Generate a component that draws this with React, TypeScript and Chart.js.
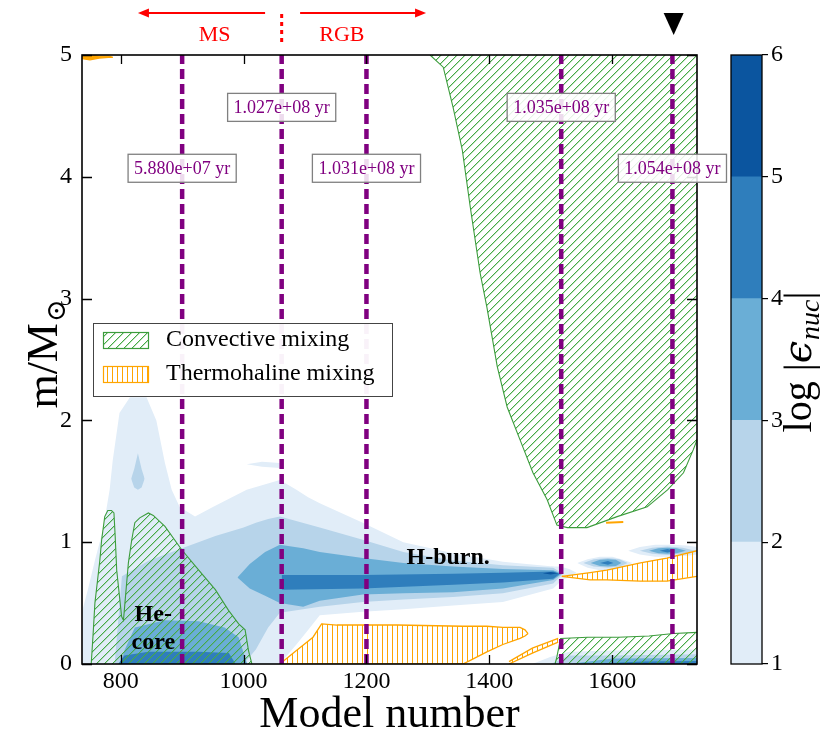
import { useEffect, useRef } from 'react';
import { Chart, registerables } from 'chart.js';

Chart.register(...registerables);

const FONT = "'Liberation Serif', 'DejaVu Serif', serif";

// ---- axes ----
const xRange = [737, 1738];
const yRange = [0, 5];
const xTicks = [800, 1000, 1200, 1400, 1600];
const yTicks = [0, 1, 2, 3, 4, 5];

// ---- colour bar ----
const cbLevels = [1, 2, 3, 4, 5, 6];
const cbColors = ['#e1edf8', '#b7d4ea', '#6aaed6', '#2f7ebc', '#0b559f'];

// ---- age markers ----
const ageModels = [900, 1062, 1200, 1517, 1698];
const ageLabels = ['5.880e+07 yr', '1.027e+08 yr', '1.031e+08 yr', '1.035e+08 yr', '1.054e+08 yr'];
const ageLabelM = [4.07, 4.57, 4.07, 4.57, 4.07];

// ---- phase annotations ----
const phaseSplit = 1062;
const msArrow = [1035, 828];
const rgbArrow = [1092, 1297];
const phaseNames = ['MS', 'RGB'];
const phaseNameX = [953, 1160];
const markerModel = 1700;

// ---- region labels ----
const regionText = ['He-', 'core', 'H-burn.'];
const regionTextX = [853, 853, 1333];
const regionTextM = [0.40, 0.17, 0.87];

// ---- legend ----
const legendLabels = ['Convective mixing', 'Thermohaline mixing'];

// ---- log eps_nuc >= 1 ----
const e1ShellX = [737, 746, 758, 771, 782, 787, 798, 815, 842, 858, 872, 883, 896, 921, 950, 1005, 1059, 1086, 1105, 1124, 1194, 1260, 1341, 1422, 1504, 1525];
const e1ShellTop = [0.43, 0.6, 0.85, 1.1, 1.43, 1.67, 2.06, 2.19, 2.19, 2.0, 1.65, 1.43, 1.29, 1.21, 1.29, 1.43, 1.51, 1.43, 1.37, 1.32, 1.16, 1.0, 0.91, 0.84, 0.8, 0.75];
const e1ShellBot = [0, 0, 0, 0, 0, 0, 0, 0, 0, 0, 0, 0, 0, 0, 0, 0, 0, 0.16, 0.28, 0.40, 0.43, 0.45, 0.48, 0.51, 0.62, 0.72];
const e1StreakX = [1005, 1030, 1059];
const e1StreakTop = [1.64, 1.66, 1.65];
const e1StreakBot = [1.64, 1.62, 1.61];
const e1Blob0X = [1500, 1515, 1530, 1542];
const e1Blob0Top = [0.8, 0.8, 0.78, 0.75];
const e1Blob0Bot = [0.7, 0.69, 0.71, 0.75];
const e1Blob1X = [1543, 1560, 1580, 1600, 1615, 1633];
const e1Blob1Top = [0.83, 0.86, 0.88, 0.88, 0.86, 0.83];
const e1Blob1Bot = [0.83, 0.79, 0.77, 0.77, 0.79, 0.83];
const e1Blob2X = [1626, 1645, 1670, 1700, 1725, 1738];
const e1Blob2Top = [0.93, 0.96, 0.98, 0.98, 0.97, 0.96];
const e1Blob2Bot = [0.93, 0.9, 0.88, 0.88, 0.89, 0.9];
const e1BaseX = [1470, 1500, 1530, 1600, 1738];
const e1BaseTop = [0, 0.06, 0.1, 0.11, 0.12];

// ---- log eps_nuc >= 2 ----
const e2ShellX = [790, 802, 846, 900, 954, 1000, 1020, 1040, 1059, 1124, 1194, 1260, 1341, 1422, 1504, 1520];
const e2ShellTop = [0, 0.72, 0.85, 0.95, 1.05, 1.12, 1.16, 1.19, 1.21, 1.12, 1.02, 0.92, 0.85, 0.81, 0.79, 0.74];
const e2ShellBot = [0, 0, 0, 0, 0, 0, 0.12, 0.3, 0.42, 0.47, 0.51, 0.53, 0.55, 0.58, 0.66, 0.74];
const e2DropX = [817, 822, 828, 834, 839];
const e2DropTop = [1.52, 1.6, 1.73, 1.6, 1.52];
const e2DropBot = [1.52, 1.45, 1.43, 1.45, 1.52];
const e2Blob1X = [1553, 1570, 1593, 1612, 1625];
const e2Blob1Top = [0.83, 0.86, 0.87, 0.86, 0.83];
const e2Blob1Bot = [0.83, 0.8, 0.79, 0.8, 0.83];
const e2Blob2X = [1645, 1665, 1690, 1715, 1735];
const e2Blob2Top = [0.93, 0.955, 0.965, 0.955, 0.93];
const e2Blob2Bot = [0.93, 0.905, 0.895, 0.905, 0.93];
const e2BaseX = [1500, 1530, 1600, 1738];
const e2BaseTop = [0, 0.07, 0.07, 0.08];

// ---- log eps_nuc >= 3 ----
const e3CoreX = [800, 806, 823, 872, 927, 969, 992, 1002, 1006];
const e3CoreTop = [0, 0.11, 0.30, 0.36, 0.35, 0.30, 0.22, 0.06, 0];
const e3ShellX = [990, 1010, 1035, 1059, 1097, 1124, 1194, 1260, 1341, 1422, 1504, 1518];
const e3ShellTop = [0.71, 0.82, 0.92, 0.98, 0.95, 0.92, 0.87, 0.83, 0.80, 0.78, 0.77, 0.74];
const e3ShellBot = [0.71, 0.62, 0.56, 0.5, 0.47, 0.52, 0.57, 0.58, 0.59, 0.62, 0.69, 0.74];
const e3Blob1X = [1565, 1580, 1593, 1606, 1615];
const e3Blob1Top = [0.83, 0.855, 0.86, 0.855, 0.83];
const e3Blob1Bot = [0.83, 0.805, 0.8, 0.805, 0.83];
const e3Blob2X = [1660, 1675, 1690, 1705, 1720];
const e3Blob2Top = [0.93, 0.95, 0.955, 0.95, 0.93];
const e3Blob2Bot = [0.93, 0.91, 0.905, 0.91, 0.93];
const e3BaseX = [1530, 1600, 1738];
const e3BaseTop = [0, 0.045, 0.05];

// ---- log eps_nuc >= 4 ----
const e4CoreX = [796, 806, 845, 927, 976, 987];
const e4CoreTop = [0, 0.07, 0.10, 0.10, 0.09, 0];
const e4BandX = [1062, 1194, 1341, 1422, 1504, 1515];
const e4BandTop = [0.73, 0.73, 0.74, 0.75, 0.76, 0.74];
const e4BandBot = [0.61, 0.62, 0.65, 0.67, 0.70, 0.74];
const e4Blob1X = [1580, 1593, 1602];
const e4Blob1Top = [0.83, 0.845, 0.83];
const e4Blob1Bot = [0.83, 0.815, 0.83];
const e4Blob2X = [1677, 1690, 1702];
const e4Blob2Top = [0.93, 0.945, 0.93];
const e4Blob2Bot = [0.93, 0.915, 0.93];
const e4BaseX = [1560, 1650, 1738];
const e4BaseTop = [0, 0.02, 0.025];

// ---- log eps_nuc >= 5 ----
const e5SpotX = [1487, 1500, 1512];
const e5SpotTop = [0.745, 0.755, 0.745];
const e5SpotBot = [0.745, 0.735, 0.745];

// ---- convective mixing ----
const convCoreX = [752, 755.5, 758, 766, 769, 774, 779, 785, 789, 791, 793.5, 801.5, 804.5, 812.5, 818, 823, 831, 845, 853, 872, 899, 927, 954, 975.5, 992, 1002.5, 1008, 1013.5];
const convCoreTop = [0, 0.28, 0.5, 0.85, 1.02, 1.21, 1.26, 1.26, 1.24, 1.05, 0.77, 0.39, 0.36, 0.83, 1.02, 1.16, 1.2, 1.24, 1.22, 1.13, 0.94, 0.77, 0.61, 0.44, 0.33, 0.28, 0.11, 0];
const convEnvX = [1303.5, 1325, 1341, 1356, 1369, 1385, 1396, 1413, 1429, 1450, 1471, 1494, 1510, 1527, 1559, 1608, 1657, 1690, 1716, 1732, 1738];
const convEnvBot = [5.0, 4.9, 4.57, 4.22, 3.75, 3.21, 2.93, 2.44, 2.11, 1.84, 1.57, 1.35, 1.14, 1.12, 1.12, 1.21, 1.29, 1.43, 1.57, 1.76, 1.84];
const convBaseX = [1507, 1510, 1516, 1560, 1610, 1660, 1700, 1738];
const convBaseTop = [0, 0.06, 0.21, 0.22, 0.22, 0.23, 0.25, 0.26];

// ---- thermohaline mixing ----
const thmShellX = [1059, 1086, 1113, 1127, 1152, 1250, 1357, 1369, 1396, 1422, 1450, 1458, 1463];
const thmShellTop = [0, 0.11, 0.22, 0.33, 0.32, 0.32, 0.31, 0.31, 0.31, 0.30, 0.30, 0.28, 0.25];
const thmShellBot = [0, 0, 0, 0, 0, 0, 0, 0.03, 0.10, 0.16, 0.21, 0.23, 0.25];
const thmStreakX = [1432, 1470, 1512];
const thmStreakTop = [0.02, 0.13, 0.21];
const thmStreakBot = [0, 0.09, 0.18];
const thmWedgeX = [1518, 1564, 1591, 1646, 1689, 1738];
const thmWedgeTop = [0.72, 0.75, 0.77, 0.83, 0.87, 0.93];
const thmWedgeBot = [0.72, 0.69, 0.69, 0.68, 0.68, 0.72];
const thmCornerX = [737, 750, 765, 780, 787];
const thmCornerTop = [5, 5, 4.99, 4.99, 4.98];
const thmCornerBot = [4.97, 4.96, 4.975, 4.98, 4.98];
const thmDashX = [1590, 1618];
const thmDashM = [1.16, 1.165];

const GREEN = '#3c9c3c';
const HATCH_GREEN = [70, 170, 70];
const ORANGE = '#ffa500';
const PURPLE = '#800080';

function makeHatch(kind: 'diag' | 'vert'): CanvasPattern | string {
  const c = document.createElement('canvas');
  const s = kind === 'diag' ? 8 : 5;
  c.width = s;
  c.height = s;
  const g = c.getContext('2d');
  if (!g) return 'transparent';
  const img = g.createImageData(s, s);
  const put = (x: number, y: number, rgb: number[], a: number) => {
    const k = (y * s + x) * 4;
    img.data[k] = rgb[0]; img.data[k + 1] = rgb[1]; img.data[k + 2] = rgb[2]; img.data[k + 3] = a;
  };
  if (kind === 'diag') {
    for (let i = 0; i < s; i++) {
      put(i, s - 1 - i, HATCH_GREEN, 255);
      put((i + 1) % s, s - 1 - i, HATCH_GREEN, 90);
    }
  } else {
    for (let j = 0; j < s; j++) put(2, j, [255, 165, 0], 255);
  }
  g.putImageData(img, 0, 0);
  return g.createPattern(c, 'repeat') || 'transparent';
}

export default function App() {
  const mainRef = useRef<HTMLCanvasElement | null>(null);
  const cbRef = useRef<HTMLCanvasElement | null>(null);

  useEffect(() => {
    if (!mainRef.current || !cbRef.current) return;
    const greenHatch = makeHatch('diag');
    const orangeHatch = makeHatch('vert');

    const datasets: any[] = [];
    const pts = (xs: number[], ys: number[]) => xs.map((x, i) => ({ x, y: ys[i] }));
    const base = { pointRadius: 0, tension: 0, clip: 0 };

    function band(xs: number[], top: number[], bot: number[] | 'origin' | 'end', fillStyle: any, line: string, lw: number, order: number) {
      const stroke = lw > 0 ? line : 'transparent';
      const width = lw > 0 ? lw : 1;
      if (bot === 'origin' || bot === 'end') {
        datasets.push({ ...base, data: pts(xs, top), borderColor: stroke, borderWidth: width, backgroundColor: fillStyle, fill: bot, order });
      } else {
        datasets.push({ ...base, data: pts(xs, bot), borderColor: stroke, borderWidth: width, fill: false, order });
        datasets.push({ ...base, data: pts(xs, top), borderColor: stroke, borderWidth: width, backgroundColor: fillStyle, fill: '-1', order });
      }
    }

    // energy generation contours
    band(e1ShellX, e1ShellTop, e1ShellBot, cbColors[0], '', 0, 90);
    band(e1StreakX, e1StreakTop, e1StreakBot, cbColors[0], '', 0, 90);
    band(e1Blob0X, e1Blob0Top, e1Blob0Bot, cbColors[0], '', 0, 90);
    band(e1Blob1X, e1Blob1Top, e1Blob1Bot, cbColors[0], '', 0, 90);
    band(e1Blob2X, e1Blob2Top, e1Blob2Bot, cbColors[0], '', 0, 90);
    band(e1BaseX, e1BaseTop, 'origin', cbColors[0], '', 0, 90);

    band(e2ShellX, e2ShellTop, e2ShellBot, cbColors[1], '', 0, 80);
    band(e2DropX, e2DropTop, e2DropBot, cbColors[1], '', 0, 80);
    band(e2Blob1X, e2Blob1Top, e2Blob1Bot, cbColors[1], '', 0, 80);
    band(e2Blob2X, e2Blob2Top, e2Blob2Bot, cbColors[1], '', 0, 80);
    band(e2BaseX, e2BaseTop, 'origin', cbColors[1], '', 0, 80);

    band(e3CoreX, e3CoreTop, 'origin', cbColors[2], '', 0, 70);
    band(e3ShellX, e3ShellTop, e3ShellBot, cbColors[2], '', 0, 70);
    band(e3Blob1X, e3Blob1Top, e3Blob1Bot, cbColors[2], '', 0, 70);
    band(e3Blob2X, e3Blob2Top, e3Blob2Bot, cbColors[2], '', 0, 70);
    band(e3BaseX, e3BaseTop, 'origin', cbColors[2], '', 0, 70);

    band(e4CoreX, e4CoreTop, 'origin', cbColors[3], '', 0, 60);
    band(e4BandX, e4BandTop, e4BandBot, cbColors[3], '', 0, 60);
    band(e4Blob1X, e4Blob1Top, e4Blob1Bot, cbColors[3], '', 0, 60);
    band(e4Blob2X, e4Blob2Top, e4Blob2Bot, cbColors[3], '', 0, 60);
    band(e4BaseX, e4BaseTop, 'origin', cbColors[3], '', 0, 60);

    band(e5SpotX, e5SpotTop, e5SpotBot, cbColors[4], '', 0, 50);

    // thermohaline mixing
    band(thmShellX, thmShellTop, thmShellBot, orangeHatch, ORANGE, 1.3, 40);
    band(thmStreakX, thmStreakTop, thmStreakBot, orangeHatch, ORANGE, 1.3, 40);
    band(thmWedgeX, thmWedgeTop, thmWedgeBot, orangeHatch, ORANGE, 1.3, 40);
    band(thmCornerX, thmCornerTop, thmCornerBot, ORANGE, ORANGE, 1.2, 40);
    datasets.push({ ...base, data: pts(thmDashX, thmDashM), borderColor: ORANGE, borderWidth: 2, fill: false, order: 40 });

    // convective mixing
    band(convCoreX, convCoreTop, 'origin', greenHatch, GREEN, 1.1, 30);
    band(convEnvX, convEnvBot, 'end', greenHatch, GREEN, 1.1, 30);
    band(convBaseX, convBaseTop, 'origin', greenHatch, GREEN, 1.1, 30);

    // age markers
    ageModels.forEach((m) => {
      datasets.push({
        ...base,
        data: [{ x: m, y: yRange[0] }, { x: m, y: yRange[1] }],
        borderColor: PURPLE,
        borderWidth: 4.5,
        borderDash: [10, 5],
        borderCapStyle: 'butt',
        fill: false,
        order: 20,
      });
    });

    const kippPlugin = {
      id: 'kipp',
      afterDatasetsDraw(chart: any) {
        const { ctx, chartArea: a, scales } = chart;
        const X = (v: number) => scales.x.getPixelForValue(v);
        const Y = (v: number) => scales.y.getPixelForValue(v);
        ctx.save();
        // inward ticks
        ctx.strokeStyle = '#000';
        ctx.lineWidth = 1.3;
        ctx.beginPath();
        xTicks.forEach((t) => {
          const px = Math.round(X(t)) + 0.5;
          ctx.moveTo(px, a.bottom); ctx.lineTo(px, a.bottom - 9);
          ctx.moveTo(px, a.top); ctx.lineTo(px, a.top + 9);
        });
        yTicks.forEach((t) => {
          const py = Math.round(Y(t)) + 0.5;
          ctx.moveTo(a.left, py); ctx.lineTo(a.left + 10, py);
          ctx.moveTo(a.right, py); ctx.lineTo(a.right - 10, py);
        });
        ctx.stroke();
        // frame
        ctx.lineWidth = 1.6;
        ctx.strokeRect(a.left, a.top, a.right - a.left, a.bottom - a.top);

        // region labels
        ctx.fillStyle = '#000';
        ctx.font = `bold 24px ${FONT}`;
        ctx.textAlign = 'center';
        ctx.textBaseline = 'middle';
        regionText.forEach((t, i) => ctx.fillText(t, X(regionTextX[i]), Y(regionTextM[i])));

        // age boxes
        ctx.font = `18px ${FONT}`;
        ageLabels.forEach((t, i) => {
          const cx = X(ageModels[i]);
          const cy = Y(ageLabelM[i]);
          const w = ctx.measureText(t).width + 12;
          const h = 28;
          ctx.fillStyle = 'rgba(255,255,255,0.86)';
          ctx.fillRect(cx - w / 2, cy - h / 2, w, h);
          ctx.strokeStyle = '#808080';
          ctx.lineWidth = 1.3;
          ctx.strokeRect(cx - w / 2, cy - h / 2, w, h);
          ctx.fillStyle = PURPLE;
          ctx.fillText(t, cx, cy + 1);
        });
        ctx.restore();
      },
      afterDraw(chart: any) {
        const { ctx, chartArea: a, scales } = chart;
        const X = (v: number) => scales.x.getPixelForValue(v);
        ctx.save();
        // legend
        const lx = a.left + 11;
        const ly = a.top + 268;
        ctx.fillStyle = 'rgba(255,255,255,0.95)';
        ctx.fillRect(lx, ly, 299, 73);
        ctx.strokeStyle = '#444';
        ctx.lineWidth = 1;
        ctx.strokeRect(lx + 0.5, ly + 0.5, 299, 73);
        const patches = [greenHatch, orangeHatch];
        const edges = [GREEN, ORANGE];
        legendLabels.forEach((t, i) => {
          const py = ly + 9 + i * 34;
          ctx.fillStyle = patches[i];
          ctx.fillRect(lx + 10, py, 45, 16);
          ctx.strokeStyle = edges[i];
          ctx.lineWidth = 1.2;
          ctx.strokeRect(lx + 10.5, py + 0.5, 45, 16);
          ctx.fillStyle = '#000';
          ctx.font = `24px ${FONT}`;
          ctx.textAlign = 'left';
          ctx.textBaseline = 'middle';
          ctx.fillText(t, lx + 73, py + 8);
        });

        // axis titles
        ctx.fillStyle = '#000';
        ctx.font = `44px ${FONT}`;
        ctx.textAlign = 'center';
        ctx.textBaseline = 'alphabetic';
        ctx.fillText('Model number', (a.left + a.right) / 2, a.bottom + 63);

        ctx.save();
        ctx.translate(a.left - 25, (a.top + a.bottom) / 2 - 5);
        ctx.rotate(-Math.PI / 2);
        ctx.font = `44px ${FONT}`;
        const w1 = ctx.measureText('m/M').width;
        ctx.font = `27px 'DejaVu Serif', serif`;
        const w2 = ctx.measureText('\u2299').width;
        const s0 = -(w1 + w2) / 2;
        ctx.textAlign = 'left';
        ctx.font = `44px ${FONT}`;
        ctx.fillText('m/M', s0, 0);
        ctx.font = `27px 'DejaVu Serif', serif`;
        ctx.fillText('\u2299', s0 + w1 + 1, 8);
        ctx.restore();

        // phase annotations above the plot
        const ay = a.top - 42;
        ctx.strokeStyle = '#ff0000';
        ctx.fillStyle = '#ff0000';
        ctx.lineWidth = 2;
        [msArrow, rgbArrow].forEach((arr) => {
          const x0 = X(arr[0]);
          const x1 = X(arr[1]);
          const dir = Math.sign(x1 - x0);
          ctx.beginPath();
          ctx.moveTo(x0, ay);
          ctx.lineTo(x1 - dir * 8, ay);
          ctx.stroke();
          ctx.beginPath();
          ctx.moveTo(x1, ay);
          ctx.lineTo(x1 - dir * 11, ay - 4.5);
          ctx.lineTo(x1 - dir * 11, ay + 4.5);
          ctx.closePath();
          ctx.fill();
        });
        ctx.lineWidth = 3;
        ctx.setLineDash([4, 4]);
        ctx.beginPath();
        const sx = X(phaseSplit);
        ctx.moveTo(sx, a.top - 41);
        ctx.lineTo(sx, a.top - 9);
        ctx.stroke();
        ctx.setLineDash([]);
        ctx.font = `22px ${FONT}`;
        ctx.textAlign = 'center';
        ctx.textBaseline = 'middle';
        phaseNames.forEach((t, i) => ctx.fillText(t, X(phaseNameX[i]), a.top - 20));

        // marker triangle
        const tx = X(markerModel);
        ctx.fillStyle = '#000';
        ctx.beginPath();
        ctx.moveTo(tx - 10, a.top - 42);
        ctx.lineTo(tx + 10, a.top - 42);
        ctx.lineTo(tx, a.top - 20);
        ctx.closePath();
        ctx.fill();
        ctx.restore();
      },
    };

    const main = new Chart(mainRef.current, {
      type: 'line',
      data: { datasets },
      options: {
        responsive: false,
        animation: false,
        devicePixelRatio: 1,
        events: [],
        layout: { padding: { left: 0, top: 55, right: 129, bottom: 34 } },
        plugins: { legend: { display: false }, tooltip: { enabled: false }, filler: { propagate: false } },
        scales: {
          x: {
            type: 'linear',
            min: xRange[0],
            max: xRange[1],
            afterBuildTicks: (s: any) => { s.ticks = xTicks.map((v) => ({ value: v })); },
            ticks: { font: { family: FONT, size: 24 }, color: '#000', padding: -5, maxRotation: 0, autoSkip: false, callback: (v: any) => String(v) },
            grid: { display: false },
            border: { display: false },
            afterFit: (s: any) => { s.height = 40; },
          },
          y: {
            type: 'linear',
            min: yRange[0],
            max: yRange[1],
            afterBuildTicks: (s: any) => { s.ticks = yTicks.map((v) => ({ value: v })); },
            ticks: { font: { family: FONT, size: 24 }, color: '#000', padding: 2, callback: (v: any) => String(v) },
            grid: { display: false },
            border: { display: false },
            afterFit: (s: any) => { s.width = 82; },
          },
        },
      } as any,
      plugins: [kippPlugin],
    });

    const cbPlugin = {
      id: 'cbframe',
      afterDatasetsDraw(chart: any) {
        const { ctx, chartArea: a } = chart;
        ctx.save();
        ctx.strokeStyle = '#000';
        ctx.lineWidth = 1.3;
        ctx.strokeRect(a.left, a.top, a.right - a.left, a.bottom - a.top);
        // label
        ctx.translate(111, (a.top + a.bottom) / 2 + 3);
        ctx.rotate(-Math.PI / 2);
        ctx.fillStyle = '#000';
        ctx.textAlign = 'left';
        ctx.textBaseline = 'alphabetic';
        const parts = [
          { t: 'log |', f: `40px ${FONT}`, dy: 0 },
          { t: '\u03f5', f: `italic 40px 'DejaVu Serif', serif`, dy: 0 },
          { t: 'nuc', f: `italic 28px ${FONT}`, dy: 8 },
          { t: '|', f: `40px ${FONT}`, dy: 0 },
        ];
        let total = 0;
        const widths = parts.map((p) => { ctx.font = p.f; const w = ctx.measureText(p.t).width; total += w; return w; });
        let cx = -total / 2;
        parts.forEach((p, i) => { ctx.font = p.f; ctx.fillText(p.t, cx, p.dy); cx += widths[i] + (i === 1 ? 1 : 0); });
        ctx.restore();
      },
    };

    const cb = new Chart(cbRef.current, {
      type: 'bar',
      data: {
        labels: [''],
        datasets: cbColors.map((c, i) => ({
          data: [[cbLevels[i], cbLevels[i + 1]]],
          backgroundColor: c,
          borderWidth: 0,
          grouped: false,
          barPercentage: 1,
          categoryPercentage: 1,
        })),
      },
      options: {
        responsive: false,
        animation: false,
        devicePixelRatio: 1,
        events: [],
        layout: { padding: { left: 31, top: 55, right: 0, bottom: 74 } },
        plugins: { legend: { display: false }, tooltip: { enabled: false } },
        scales: {
          x: { display: false },
          y: {
            position: 'right',
            min: cbLevels[0],
            max: cbLevels[cbLevels.length - 1],
            afterBuildTicks: (s: any) => { s.ticks = cbLevels.map((v) => ({ value: v })); },
            ticks: { font: { family: FONT, size: 24 }, color: '#000', padding: 3, callback: (v: any) => String(v) },
            grid: { drawOnChartArea: false, drawTicks: true, tickLength: 6, color: '#000', lineWidth: 1.2 },
            border: { display: false },
            afterFit: (s: any) => { s.width = 64; },
          },
        },
      } as any,
      plugins: [cbPlugin],
    });

    return () => {
      main.destroy();
      cb.destroy();
    };
  }, []);

  return (
    <div style={{ position: 'fixed', left: 0, top: 0, width: 826, height: 738, background: '#fff', overflow: 'hidden' }}>
      <canvas ref={mainRef} width={826} height={738} style={{ position: 'absolute', left: 0, top: 0, width: 826, height: 738 }} />
      <canvas ref={cbRef} width={126} height={738} style={{ position: 'absolute', left: 700, top: 0, width: 126, height: 738 }} />
    </div>
  );
}
